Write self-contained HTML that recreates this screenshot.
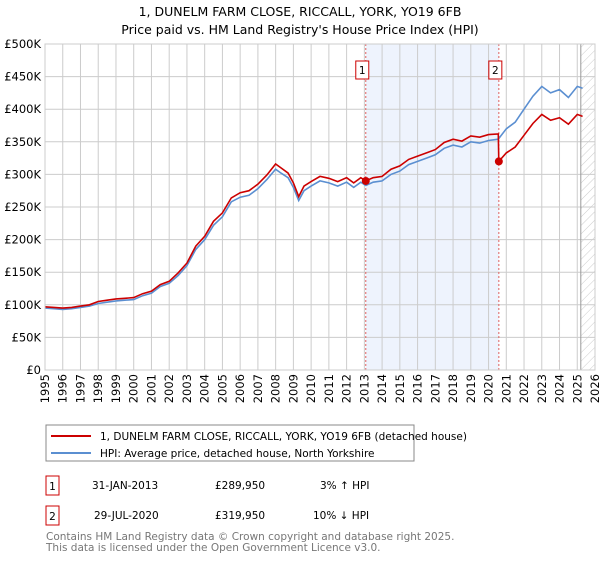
<!DOCTYPE html>
<html><head><meta charset="utf-8"><style>
body{margin:0;background:#fff;font-family:"Liberation Sans","DejaVu Sans",sans-serif;}
svg text{font-family:"DejaVu Sans","Liberation Sans",sans-serif;}
</style></head><body>
<svg id="c" width="600" height="560" xmlns="http://www.w3.org/2000/svg">
<defs><pattern id="hatch" width="6" height="6" patternUnits="userSpaceOnUse" patternTransform="rotate(45)"><line x1="0" y1="0" x2="0" y2="6" stroke="#ccc" stroke-width="1"/></pattern></defs>
<text x="300" y="16" text-anchor="middle" font-size="12.5">1, DUNELM FARM CLOSE, RICCALL, YORK, YO19 6FB</text>
<text x="300" y="34" text-anchor="middle" font-size="12.5">Price paid vs. HM Land Registry's House Price Index (HPI)</text>
<g id="plot"></g>
<rect x="46" y="425" width="368" height="36" fill="#fff" stroke="#888"/>
<line x1="51" y1="436" x2="91" y2="436" stroke="#cc0000" stroke-width="2"/>
<text x="100" y="440" font-size="10.5">1, DUNELM FARM CLOSE, RICCALL, YORK, YO19 6FB (detached house)</text>
<line x1="51" y1="453" x2="91" y2="453" stroke="#5b8fd1" stroke-width="2"/>
<text x="100" y="457" font-size="10.5">HPI: Average price, detached house, North Yorkshire</text>
<g font-size="10.5">
<rect x="46" y="476" width="13" height="19" fill="#fff" stroke="#cc0000"/><text x="52.5" y="490" text-anchor="middle">1</text>
<text x="92" y="489">31-JAN-2013</text><text x="215" y="489">£289,950</text><text x="320" y="489">3% ↑ HPI</text></g>
<g font-size="10.5">
<rect x="46" y="506" width="13" height="19" fill="#fff" stroke="#cc0000"/><text x="52.5" y="520" text-anchor="middle">2</text>
<text x="94" y="519">29-JUL-2020</text><text x="215" y="519">£319,950</text><text x="313" y="519">10% ↓ HPI</text></g>
<text x="46" y="540" font-size="10.5" fill="#777">Contains HM Land Registry data © Crown copyright and database right 2025.</text>
<text x="46" y="551" font-size="10.5" fill="#777">This data is licensed under the Open Government Licence v3.0.</text>
</svg>
<script>
const years=[1995,1995.5,1996,1996.5,1997,1997.5,1998,1998.5,1999,1999.5,2000,2000.5,2001,2001.5,2002,2002.5,2003,2003.5,2004,2004.5,2005,2005.5,2006,2006.5,2007,2007.5,2008,2008.3,2008.7,2009,2009.3,2009.6,2010,2010.5,2011,2011.5,2012,2012.4,2012.8,2013.08,2013.5,2014,2014.5,2015,2015.5,2016,2016.5,2017,2017.5,2018,2018.5,2019,2019.5,2020,2020.55,2020.58,2021,2021.5,2022,2022.5,2023,2023.5,2024,2024.5,2025,2025.3];
const hpiValues=[95,94,93,94,96,98,102,104,106,107,108,114,118,128,133,145,160,185,200,222,235,258,265,268,278,292,308,302,295,280,260,275,282,290,287,282,288,280,288,283,288,290,300,305,315,320,325,330,340,345,342,350,348,352,354,355,370,380,400,420,435,425,430,418,435,432];
const propertyValues=[97,96,95,96,98,100,105,107,109,110,111,117,121,131,136,149,164,190,205,228,241,264,272,275,285,299,316,310,302,287,266,282,289,297,294,289,295,287,295,290,295,297,308,313,323,328,333,338,349,354,351,359,357,361,362,320,333,342,360,378,392,383,387,377,392,389];
const saleYears=[2013.08,2020.58];
const salePrices=[289.95,319.95];
const saleLabels=["1","2"];
const yTicks=[0,50,100,150,200,250,300,350,400,450,500];
const yTickLabels=["£0","£50K","£100K","£150K","£200K","£250K","£300K","£350K","£400K","£450K","£500K"];
const xTicks=[1995,1996,1997,1998,1999,2000,2001,2002,2003,2004,2005,2006,2007,2008,2009,2010,2011,2012,2013,2014,2015,2016,2017,2018,2019,2020,2021,2022,2023,2024,2025,2026];
const dataEnd=2025.2;

const L=45,R=595,T=44,B=370,x0=1995,x1=2026,ymax=500;
const X=v=>L+(v-x0)/(x1-x0)*(R-L);
const Y=v=>B-v/ymax*(B-T);
const NS="http://www.w3.org/2000/svg";
const g=document.getElementById('plot');
function mk(tag,attrs,parent){const e=document.createElementNS(NS,tag);for(const k in attrs)e.setAttribute(k,attrs[k]);(parent||g).appendChild(e);return e;}

const shade=mk('rect',{x:X(saleYears[0]),y:T,width:X(saleYears[1])-X(saleYears[0]),height:B-T,fill:'#eef3fd'});


const hat=mk('rect',{x:X(dataEnd),y:T,width:R-X(dataEnd),height:B-T,fill:'url(#hatch)'});



yTicks.forEach((t,i)=>{
 const ln=mk('line',{x1:L,x2:R,y1:Y(t),y2:Y(t),stroke:'#ccc','stroke-width':1});
 
 
 const tx=mk('text',{x:L-4,y:Y(t)+4,'text-anchor':'end','font-size':11.5});
 
 
 tx.textContent=yTickLabels[i];
});
xTicks.forEach(t=>{
 const ln=mk('line',{x1:X(t),x2:X(t),y1:T,y2:B,stroke:'#ccc','stroke-width':1});
 
 
 const tx=mk('text',{x:0,y:0,'text-anchor':'end','font-size':11.5,transform:`translate(${X(t)+4},374) rotate(-90)`});
 
 
 tx.textContent=t;
});
const el=mk('line',{x1:X(dataEnd),x2:X(dataEnd),y1:T,y2:B,stroke:'#999','stroke-width':1});



saleYears.forEach((s,i)=>{
 const ln=mk('line',{x1:X(s),x2:X(s),y1:T,y2:B,stroke:'#e06060','stroke-width':1,'stroke-dasharray':'2,2'});
 
 
 const bx=mk('rect',{x:X(s)-10,y:61,width:13,height:18,fill:'#fff',stroke:'#cc0000'});
 
 
 const tx=mk('text',{x:X(s)-3.5,y:74,'text-anchor':'middle','font-size':10.5});
 
 
 tx.textContent=saleLabels[i];
});

const pts=v=>years.map((y,i)=>X(y).toFixed(1)+','+Y(v[i]).toFixed(1)).join(' ');
const hl=mk('polyline',{points:pts(hpiValues),fill:'none',stroke:'#5b8fd1','stroke-width':1.6});


const pl=mk('polyline',{points:pts(propertyValues),fill:'none',stroke:'#cc0000','stroke-width':1.6});


saleYears.forEach((s,i)=>{
 const c=mk('circle',{cx:X(s),cy:Y(salePrices[i]),r:4,fill:'#cc0000'});
 
 
});
const bd=mk('rect',{x:L,y:T,width:R-L,height:B-T,fill:'none',stroke:'#ccc'});


</script>
</body></html>
